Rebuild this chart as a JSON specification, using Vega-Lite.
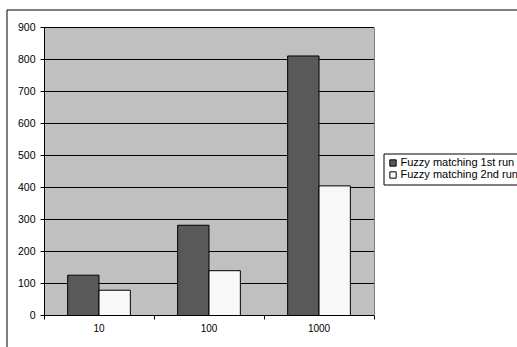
{
  "$schema": "https://vega.github.io/schema/vega-lite/v6.json",
  "autosize": {"type": "none"},
  "width": 530,
  "height": 360,
  "padding": {"left": 6.5, "top": 9.5, "right": -19.5, "bottom": -22.5},
  "background": "white",
  "config": {
    "view": {"fill": "white", "stroke": "black", "strokeWidth": 1},
    "font": "Liberation Sans",
    "axis": {"translate": 0, "title": null}
  },
  "data": {
    "values": [
      {"size": "10", "run": "Fuzzy matching 1st run", "value": 126},
      {"size": "10", "run": "Fuzzy matching 2nd run", "value": 79},
      {"size": "100", "run": "Fuzzy matching 1st run", "value": 282},
      {"size": "100", "run": "Fuzzy matching 2nd run", "value": 140},
      {"size": "1000", "run": "Fuzzy matching 1st run", "value": 811},
      {"size": "1000", "run": "Fuzzy matching 2nd run", "value": 405}
    ]
  },
  "encoding": {
    "x": {
      "field": "size",
      "type": "ordinal",
      "sort": ["10", "100", "1000"],
      "scale": {"range": [37.5, 367.5], "paddingInner": 0, "paddingOuter": 0},
      "axis": {
        "orient": "bottom",
        "offset": -54,
        "tickBand": "extent",
        "tickSize": 4,
        "tickColor": "black",
        "domainColor": "black",
        "labelFontSize": 10,
        "labelColor": "black",
        "labelPadding": 4,
        "labelAngle": 0,
        "grid": false,
        "zindex": 1
      }
    },
    "xOffset": {
      "field": "run",
      "type": "nominal",
      "scale": {"paddingInner": 0, "paddingOuter": 0.7544}
    }
  },
  "layer": [
    {
      "mark": {"type": "bar", "opacity": 0},
      "encoding": {
        "y": {
          "field": "value",
          "type": "quantitative",
          "scale": {"domain": [0, 900], "range": [306, 18], "nice": false},
          "axis": {
            "orient": "left",
            "offset": -38,
            "values": [450],
            "grid": true,
            "gridColor": "#c0c0c0",
            "gridWidth": 288,
            "gridOpacity": 1,
            "domain": false,
            "ticks": false,
            "labels": false
          }
        }
      }
    },
    {
      "mark": {"type": "bar", "stroke": "black", "strokeWidth": 1},
      "encoding": {
        "y": {
          "field": "value",
          "type": "quantitative",
          "scale": {"domain": [0, 900], "range": [306, 18], "nice": false},
          "axis": {
            "orient": "left",
            "offset": -38,
            "values": [0, 100, 200, 300, 400, 500, 600, 700, 800, 900],
            "grid": true,
            "gridColor": "black",
            "gridWidth": 1,
            "gridOpacity": 1,
            "domainColor": "black",
            "tickColor": "black",
            "tickSize": 4,
            "labelFontSize": 10.5,
            "labelColor": "black",
            "labelPadding": 5
          }
        },
        "fill": {
          "field": "run",
          "type": "nominal",
          "scale": {
            "domain": ["Fuzzy matching 1st run", "Fuzzy matching 2nd run"],
            "range": ["#595959", "#f8f8f8"]
          },
          "legend": {
            "orient": "none",
            "legendX": 377,
            "legendY": 144,
            "title": null,
            "strokeColor": "black",
            "fillColor": "white",
            "padding": 4,
            "symbolType": "square",
            "symbolSize": 40,
            "symbolStrokeColor": "black",
            "symbolStrokeWidth": 1,
            "symbolOpacity": 1,
            "labelFontSize": 11,
            "labelColor": "black",
            "labelOffset": 2,
            "rowPadding": 0
          }
        }
      }
    },
    {
      "mark": {"type": "bar", "opacity": 0},
      "encoding": {
        "y": {
          "field": "value",
          "type": "quantitative",
          "scale": {"domain": [0, 900], "range": [306, 18], "nice": false},
          "axis": {
            "orient": "right",
            "offset": -162,
            "domainColor": "#808080",
            "ticks": false,
            "labels": false,
            "grid": false
          }
        }
      }
    }
  ],
  "resolve": {"axis": {"y": "independent"}}
}
